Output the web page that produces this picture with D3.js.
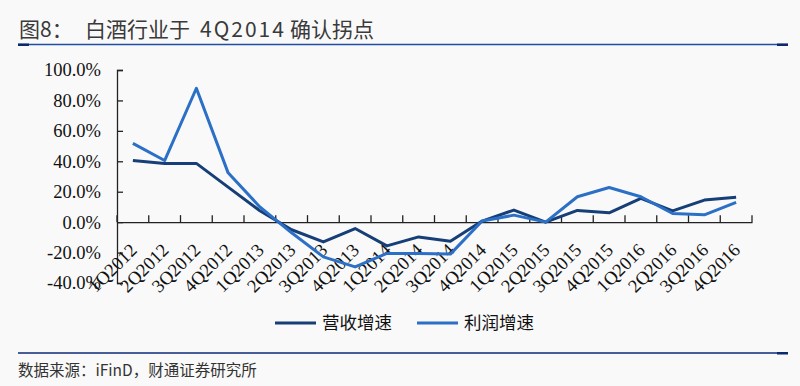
<!DOCTYPE html>
<html>
<head>
<meta charset="utf-8">
<script src="https://cdn.jsdelivr.net/npm/d3@7"></script>
<style>
  body { margin: 0; background: #f9f9f9; }
  svg { display: block; }
</style>
</head>
<body>
<div id="chart"></div>
<script>
// quarters on the x axis
const quarters = ["1Q2012","2Q2012","3Q2012","4Q2012","1Q2013","2Q2013","3Q2013","4Q2013",
  "1Q2014","2Q2014","3Q2014","4Q2014","1Q2015","2Q2015","3Q2015","4Q2015",
  "1Q2016","2Q2016","3Q2016","4Q2016"]
// 营收增速 (%)
const revenueGrowth = [40.5, 38.6, 38.6, 23.0, 7.5, -5.0, -13.0, -4.2,
  -15.6, -9.7, -12.5, 0.7, 7.9, 0.0, 7.7, 6.1,
  15.6, 7.4, 14.5, 16.4]
// 利润增速 (%)
const profitGrowth = [51.8, 40.5, 88.0, 32.4, 10.0, -7.0, -22.8, -29.4,
  -20.6, -20.6, -21.0, 0.7, 4.6, 0.0, 16.7, 22.8,
  16.7, 5.7, 4.8, 13.0]
const yTicks = [-40, -20, 0, 20, 40, 60, 80, 100]

const W = 800, H = 386
const svg = d3.select("#chart").append("svg").attr("width", W).attr("height", H)

svg.append("rect").attr("width", W).attr("height", H).attr("fill", "#f9f9f9")

const sans = "'Noto Sans CJK SC', 'Noto Sans', sans-serif"
const serif = "'Liberation Serif', 'Times New Roman', serif"

// title + rules
const title = svg.append("text")
  .attr("y", 37)
  .attr("font-family", sans)
  .attr("font-size", 21)
  .attr("fill", "#3a3a3a")
title.append("tspan").attr("x", 19).text("图8：")
title.append("tspan").attr("x", 85).text("白酒行业于")
title.append("tspan").attr("x", 200).attr("letter-spacing", 2).text("4Q2014")
title.append("tspan").attr("x", 290).text("确认拐点")

svg.append("line").attr("x1", 18).attr("x2", 788).attr("y1", 44.5).attr("y2", 44.5)
  .attr("stroke", "#1f4fa0").attr("stroke-width", 1.5)
svg.append("rect").attr("x", 18).attr("y", 43.5).attr("width", 11).attr("height", 2.5).attr("fill", "#0b2a6b")
svg.append("rect").attr("x", 777).attr("y", 43.5).attr("width", 11).attr("height", 2.5).attr("fill", "#0b2a6b")

svg.append("line").attr("x1", 18).attr("x2", 788).attr("y1", 353).attr("y2", 353)
  .attr("stroke", "#0b2a7a").attr("stroke-width", 1.5)
svg.append("rect").attr("x", 777).attr("y", 352).attr("width", 11).attr("height", 2.5).attr("fill", "#0b2a6b")

svg.append("text")
  .attr("x", 18).attr("y", 376)
  .attr("font-family", sans)
  .attr("font-size", 15.5)
  .attr("fill", "#333")
  .text("数据来源：iFinD，财通证券研究所")

// plot
const x = d3.scaleBand().domain(quarters).range([117, 752])
const y = d3.scaleLinear().domain([-40, 100]).range([283, 70])
const cx = d => x(d) + x.bandwidth() / 2

// y axis
const yAxis = svg.append("g").attr("transform", "translate(117,0)")
  .call(d3.axisRight(y).tickValues(yTicks).tickSize(6).tickFormat(""))
yAxis.select(".domain").attr("stroke", "#222").attr("stroke-width", 1.3)
yAxis.selectAll(".tick line").attr("stroke", "#222").attr("stroke-width", 1.3)

svg.append("g").selectAll("text").data(yTicks).join("text")
  .attr("x", 101).attr("y", d => y(d)).attr("dy", "0.35em")
  .attr("text-anchor", "end")
  .attr("font-family", serif).attr("font-size", 18.5)
  .attr("fill", "#111")
  .text(d => d.toFixed(1) + "%")

// x axis at 0
const xAxis = svg.append("g").attr("transform", "translate(0," + y(0) + ")")
  .call(d3.axisTop(x).tickSize(0).tickFormat(""))
xAxis.select(".domain").attr("stroke", "#222").attr("stroke-width", 1.3)
const bounds = quarters.map(q => x(q)).concat([x.range()[1]])
svg.append("g").selectAll("line").data(bounds).join("line")
  .attr("x1", d => d).attr("x2", d => d)
  .attr("y1", y(0)).attr("y2", y(0) - 7)
  .attr("stroke", "#222").attr("stroke-width", 1.3)

svg.append("g").selectAll("text").data(quarters).join("text")
  .attr("transform", d => "translate(" + (cx(d) - 4) + "," + (y(0) + 20) + ") rotate(-45)")
  .attr("text-anchor", "end").attr("dy", "0.7em")
  .attr("font-family", serif).attr("font-size", 18.5)
  .attr("fill", "#111")
  .text(d => d)

// lines
const series = [
  { name: "营收增速", values: revenueGrowth, color: "#163f78" },
  { name: "利润增速", values: profitGrowth, color: "#2b70c6" }
]
const line = d3.line().x((d, i) => cx(quarters[i])).y(d => y(d))

svg.append("g").selectAll("path").data(series).join("path")
  .attr("d", d => line(d.values))
  .attr("fill", "none")
  .attr("stroke", d => d.color)
  .attr("stroke-width", 3)
  .attr("stroke-linejoin", "round")

// legend
const legendX = [275, 417]
const lg = svg.append("g").selectAll("g").data(series).join("g")
  .attr("transform", (d, i) => "translate(" + legendX[i] + ",323)")
lg.append("line").attr("x1", 0).attr("x2", 41)
  .attr("stroke", d => d.color).attr("stroke-width", 3)
lg.append("text").attr("x", 47).attr("dy", "0.35em")
  .attr("font-family", sans).attr("font-size", 17.5)
  .attr("fill", "#111")
  .text(d => d.name)
</script>
</body>
</html>
